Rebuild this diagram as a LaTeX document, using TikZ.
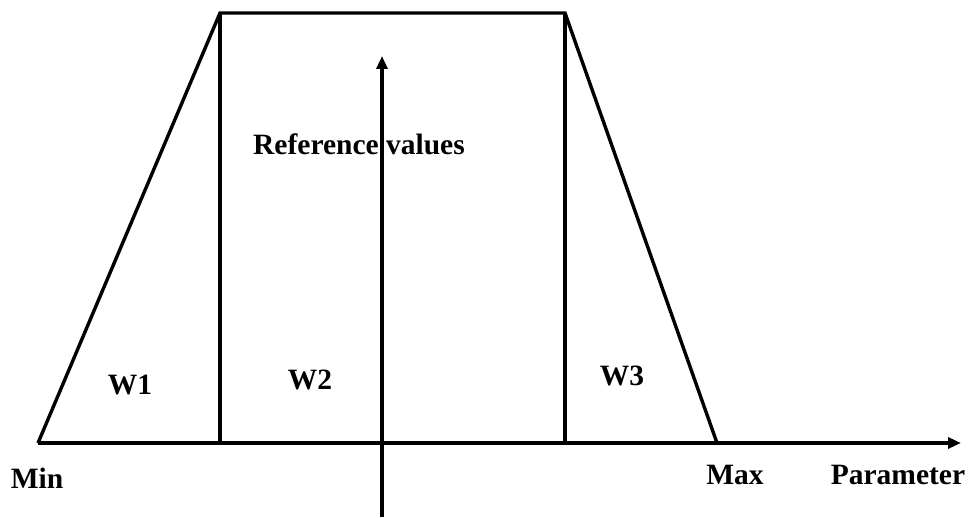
\documentclass[tikz,border=0pt]{standalone}
\usepackage{fontspec}
\setmainfont{Liberation Serif}
\usetikzlibrary{arrows.meta}
\begin{document}
\begin{tikzpicture}[x=1pt,y=-1pt,
  ln/.style={line width=3.4pt,line join=miter},
  axisarrow/.style={ln,-{Triangle[length=13pt,width=11pt]}},
  lbl/.style={inner sep=0pt,font=\fontsize{29.5}{34}\selectfont\bfseries}]
\useasboundingbox (0,0) rectangle (969,518);
% key points
\coordinate (bl) at (38,443);
\coordinate (tl) at (220,13);
\coordinate (tr) at (565,13);
\coordinate (br) at (717,443);
\coordinate (bml) at (220,443);
\coordinate (bmr) at (565,443);
\coordinate (xend) at (961,443);
\coordinate (ystart) at (382,517);
\coordinate (yend) at (382,56);
% trapezoid
\draw[ln] (bl) -- (tl) -- (tr) -- (br);
\draw[ln] (tl) -- (bml);
\draw[ln] (tr) -- (bmr);
% axes
\draw[axisarrow] (bl) -- (xend);
\draw[axisarrow] (ystart) -- (yend);
% labels
\node[lbl] (ref) at (359,144) {Reference values};
\node[lbl] (w1) at (130,385) {W1};
\node[lbl] (w2) at (310,380) {W2};
\node[lbl] (w3) at (622,376) {W3};
\node[lbl] (min) at (37,478) {Min};
\node[lbl] (max) at (735,475) {Max};
\node[lbl] (par) at (898,475) {Parameter};
\end{tikzpicture}
\end{document}
